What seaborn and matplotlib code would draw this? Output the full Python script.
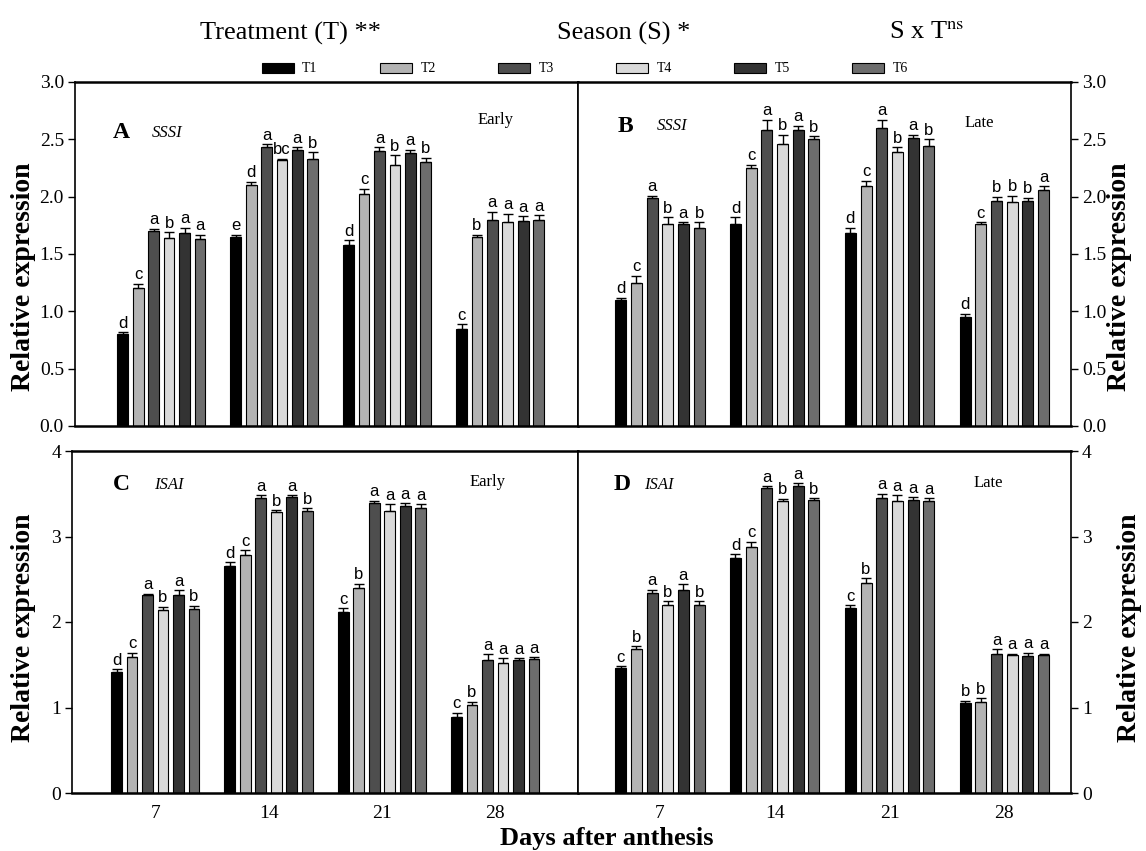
import numpy as np
import pandas as pd
import seaborn as sns
import matplotlib.pyplot as plt
from matplotlib.patches import Patch

# Categories
days = ['7', '14', '21', '28']
treatments = ['T1', 'T2', 'T3', 'T4', 'T5', 'T6']
bar_colors = ['#000000', '#b3b3b3', '#4e4e4e', '#d9d9d9', '#333333', '#6d6d6d']

# A - SSSI, early season (rows = days, cols = T1..T6)
sssi_early_mean = [[0.80, 1.20, 1.70, 1.64, 1.68, 1.63],
                   [1.65, 2.10, 2.43, 2.32, 2.41, 2.33],
                   [1.58, 2.02, 2.40, 2.28, 2.38, 2.30],
                   [0.85, 1.65, 1.80, 1.78, 1.79, 1.80]]
sssi_early_se = [[0.02, 0.04, 0.02, 0.05, 0.05, 0.04],
                 [0.02, 0.03, 0.03, 0.01, 0.02, 0.06],
                 [0.04, 0.05, 0.03, 0.08, 0.03, 0.04],
                 [0.04, 0.02, 0.07, 0.07, 0.04, 0.04]]
sssi_early_sig = [['d', 'c', 'a', 'b', 'a', 'a'],
                  ['e', 'd', 'a', 'bc', 'a', 'b'],
                  ['d', 'c', 'a', 'b', 'a', 'b'],
                  ['c', 'b', 'a', 'a', 'a', 'a']]

# B - SSSI, late season
sssi_late_mean = [[1.10, 1.25, 1.99, 1.76, 1.76, 1.73],
                  [1.76, 2.25, 2.58, 2.46, 2.58, 2.50],
                  [1.68, 2.09, 2.60, 2.39, 2.51, 2.44],
                  [0.95, 1.76, 1.96, 1.95, 1.96, 2.06]]
sssi_late_se = [[0.02, 0.06, 0.02, 0.06, 0.02, 0.05],
                [0.06, 0.03, 0.09, 0.08, 0.04, 0.03],
                [0.05, 0.05, 0.07, 0.04, 0.03, 0.06],
                [0.03, 0.02, 0.04, 0.06, 0.03, 0.03]]
sssi_late_sig = [['d', 'c', 'a', 'b', 'a', 'b'],
                 ['d', 'c', 'a', 'b', 'a', 'b'],
                 ['d', 'c', 'a', 'b', 'a', 'b'],
                 ['d', 'c', 'b', 'b', 'b', 'a']]

# C - ISAI, early season
isai_early_mean = [[1.42, 1.59, 2.31, 2.14, 2.32, 2.15],
                   [2.65, 2.78, 3.45, 3.29, 3.46, 3.30],
                   [2.12, 2.40, 3.39, 3.30, 3.36, 3.33],
                   [0.89, 1.03, 1.55, 1.52, 1.55, 1.57]]
isai_early_se = [[0.03, 0.05, 0.02, 0.04, 0.05, 0.04],
                 [0.05, 0.06, 0.03, 0.02, 0.02, 0.03],
                 [0.04, 0.05, 0.03, 0.08, 0.03, 0.05],
                 [0.05, 0.04, 0.07, 0.06, 0.03, 0.02]]
isai_early_sig = [['d', 'c', 'a', 'b', 'a', 'b'],
                  ['d', 'c', 'a', 'b', 'a', 'b'],
                  ['c', 'b', 'a', 'a', 'a', 'a'],
                  ['c', 'b', 'a', 'a', 'a', 'a']]

# D - ISAI, late season
isai_late_mean = [[1.46, 1.68, 2.34, 2.20, 2.38, 2.20],
                  [2.75, 2.88, 3.57, 3.42, 3.59, 3.43],
                  [2.16, 2.46, 3.45, 3.41, 3.43, 3.42],
                  [1.05, 1.07, 1.62, 1.61, 1.60, 1.61]]
isai_late_se = [[0.02, 0.04, 0.04, 0.04, 0.06, 0.04],
                [0.04, 0.06, 0.02, 0.02, 0.03, 0.02],
                [0.04, 0.05, 0.05, 0.07, 0.03, 0.03],
                [0.03, 0.04, 0.06, 0.02, 0.04, 0.02]]
isai_late_sig = [['c', 'b', 'a', 'b', 'a', 'b'],
                 ['d', 'c', 'a', 'b', 'a', 'b'],
                 ['c', 'b', 'a', 'a', 'a', 'a'],
                 ['b', 'b', 'a', 'a', 'a', 'a']]

sns.set_style('white')
plt.rcParams['font.family'] = ['Liberation Serif', 'DejaVu Serif']
plt.rcParams['mathtext.fontset'] = 'stix'
plt.rcParams['text.color'] = 'black'
plt.rcParams['axes.labelcolor'] = 'black'
plt.rcParams['xtick.color'] = 'black'
plt.rcParams['ytick.color'] = 'black'

W, H = 1146, 851
fig = plt.figure(figsize=(W / 100, H / 100), dpi=100)


def px_axes(left, right, top, bottom):
    # pixel box -> figure fraction
    return fig.add_axes([left / W, 1 - bottom / H, (right - left) / W, (bottom - top) / H])


def draw_panel(ax, means, ses, sigs, ylim, yticks, fmt, side, xlim, show_x):
    df = pd.DataFrame([(d, t, means[i][j]) for i, d in enumerate(days)
                       for j, t in enumerate(treatments)],
                      columns=['day', 'treatment', 'value'])
    sns.barplot(data=df, x='day', y='value', hue='treatment', order=days,
                hue_order=treatments, palette=bar_colors, width=0.82, gap=0.3,
                edgecolor='black', linewidth=0.8, errorbar=None, legend=False,
                saturation=1, ax=ax)
    bar_conts = list(ax.containers)
    # upper error bars and letters
    for j, cont in enumerate(bar_conts):
        for i, bar in enumerate(cont):
            x = bar.get_x() + bar.get_width() / 2
            h = bar.get_height()
            e = ses[i][j]
            ax.errorbar(x, h, yerr=[[0], [e]], fmt='none', ecolor='black',
                        elinewidth=1.0, capsize=3.5, capthick=1.0)
            ax.annotate(sigs[i][j], (x, h + e), xytext=(0, 1),
                        textcoords='offset points', ha='center', va='bottom',
                        fontsize=12, family='Liberation Sans')
    ax.set_xlim(*xlim)
    ax.set_ylim(*ylim)
    ax.set_yticks(yticks)
    ax.set_yticklabels([fmt.format(v) for v in yticks], fontsize=14)
    ax.set_xlabel('')
    ax.set_ylabel('')
    if side == 'left':
        ax.tick_params(axis='y', which='both', left=True, right=False,
                       labelleft=True, labelright=False, direction='out',
                       length=5, width=1, pad=3)
    else:
        ax.tick_params(axis='y', which='both', left=False, right=True,
                       labelleft=False, labelright=True, direction='out',
                       length=5, width=1, pad=3)
    ax.tick_params(axis='x', length=0, labelsize=14, pad=9,
                   labelbottom=show_x)
    for s in ax.spines.values():
        s.set_visible(True)
        s.set_linewidth(1.2)
        s.set_color('black')
    ax.spines['top'].set_linewidth(1.8)
    ax.spines['bottom'].set_linewidth(1.8)


ax_a = px_axes(75, 578, 82, 426)
ax_b = px_axes(578, 1071, 82, 426)
ax_c = px_axes(72, 578, 451, 793)
ax_d = px_axes(578, 1071, 451, 793)

top_ticks = [0.0, 0.5, 1.0, 1.5, 2.0, 2.5, 3.0]
bot_ticks = [0, 1, 2, 3, 4]
draw_panel(ax_a, sssi_early_mean, sssi_early_se, sssi_early_sig, (0, 3.0),
           top_ticks, '{:.1f}', 'left', (-0.765, 3.69), False)
draw_panel(ax_b, sssi_late_mean, sssi_late_se, sssi_late_sig, (0, 3.0),
           top_ticks, '{:.1f}', 'right', (-0.713, 3.58), False)
draw_panel(ax_c, isai_early_mean, isai_early_se, isai_early_sig, (0, 4),
           bot_ticks, '{:d}', 'left', (-0.735, 3.73), True)
draw_panel(ax_d, isai_late_mean, isai_late_se, isai_late_sig, (0, 4),
           bot_ticks, '{:d}', 'right', (-0.713, 3.58), True)


def ftext(x, y, s, **kw):
    fig.text(x / W, 1 - y / H, s, **kw)


# panel annotations
for (lx, gx, sx, y, letter, gene, season, sy) in [
        (113, 152, 478, 133, 'A', 'SSSI', 'Early', 120),
        (618, 657, 965, 126, 'B', 'SSSI', 'Late', 123),
        (113, 154, 470, 485, 'C', 'ISAI', 'Early', 482),
        (614, 644, 974, 485, 'D', 'ISAI', 'Late', 483)]:
    ftext(lx, y, letter, fontsize=17, fontweight='bold', va='center', ha='left')
    ftext(gx, y, gene, fontsize=12, style='italic', va='center', ha='left')
    ftext(sx, sy, season, fontsize=12, va='center', ha='left')

# axis titles
ftext(24, 277, 'Relative expression', fontsize=20, fontweight='bold',
      rotation=90, ha='center', va='center')
ftext(1120, 277, 'Relative expression', fontsize=20, fontweight='bold',
      rotation=90, ha='center', va='center')
ftext(24, 628, 'Relative expression', fontsize=20, fontweight='bold',
      rotation=90, ha='center', va='center')
ftext(1130, 628, 'Relative expression', fontsize=20, fontweight='bold',
      rotation=90, ha='center', va='center')
ftext(607, 839, 'Days after anthesis', fontsize=19, fontweight='bold',
      ha='center', va='center')

# header
ftext(200, 33, 'Treatment (T) **', fontsize=19, ha='left', va='center')
ftext(557, 33, 'Season (S) *', fontsize=19, ha='left', va='center')
ftext(889, 33, r'S x T$^{\mathrm{ns}}$', fontsize=19, ha='left', va='center')

# legend
handles = [Patch(facecolor=c, edgecolor='black', linewidth=0.8, label=t)
           for c, t in zip(bar_colors, treatments)]
fig.legend(handles=handles, loc='center', bbox_to_anchor=(585 / W, 1 - 69 / H),
           ncol=6, frameon=False, fontsize=10, handlelength=2.3,
           handleheight=0.75, handletextpad=0.6, columnspacing=4.5)

fig.savefig('out.png', dpi=100)
